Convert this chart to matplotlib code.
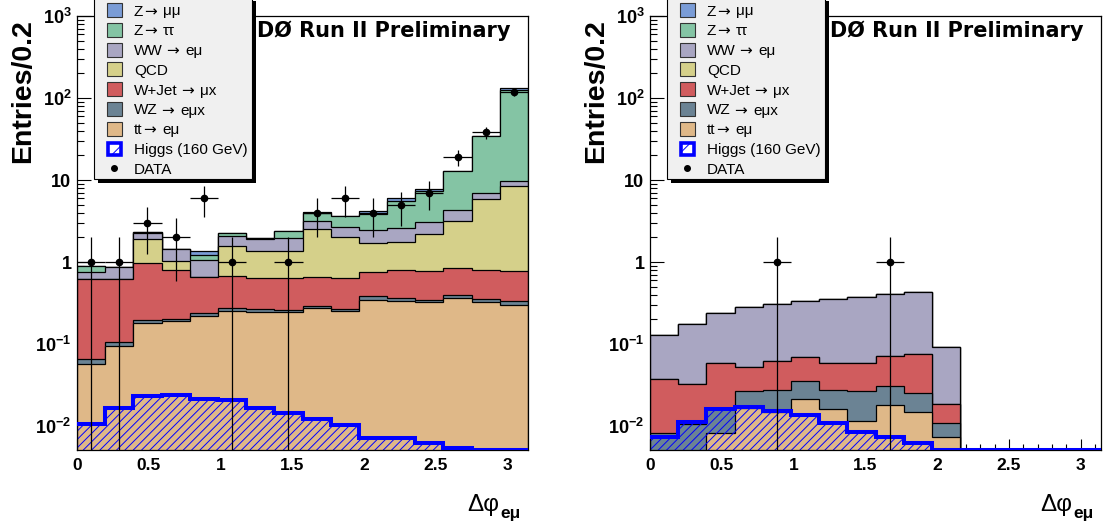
import numpy as np
import matplotlib
matplotlib.use('Agg')
import matplotlib.pyplot as plt
from matplotlib.patches import Rectangle
from matplotlib.ticker import FixedLocator, LogLocator, MultipleLocator, FuncFormatter, NullFormatter

plt.rcParams['font.family'] = ['Liberation Sans', 'DejaVu Sans']
plt.rcParams['mathtext.fontset'] = 'custom'
plt.rcParams['mathtext.rm'] = 'Liberation Sans'
plt.rcParams['mathtext.bf'] = 'Liberation Sans:bold'
plt.rcParams['mathtext.it'] = 'Liberation Sans:italic'
plt.rcParams['hatch.linewidth'] = 0.7

W, H, DPI = 1107, 529, 100

# ---------------- data ----------------
n_bins = 16
edges = np.linspace(0, np.pi, n_bins + 1)

ARROW = "\u2192"
labels = ["Z" + ARROW + " \u03bc\u03bc", "Z" + ARROW + " \u03c4\u03c4", "WW " + ARROW + " e\u03bc", "QCD",
          "W+Jet " + ARROW + " \u03bcx", "WZ " + ARROW + " e\u03bcx", "tt" + ARROW + " e\u03bc",
          "Higgs (160 GeV)", "DATA"]
# stack order bottom -> top: tt, WZ, W+Jet, QCD, WW, Ztautau, Zmumu
colors = ['#dfb888', '#6b8394', '#d05c5e', '#d5d08a', '#a9a6c2', '#84c4a4', '#7a9cd6']
legend_colors = ['#7a9cd6', '#84c4a4', '#a9a6c2', '#d5d08a', '#d05c5e', '#6b8394', '#dfb888']

# left panel
L_tt   = [0.0565, 0.0946, 0.182, 0.189, 0.220, 0.255, 0.248, 0.244, 0.272, 0.250, 0.349, 0.337, 0.323, 0.364, 0.325, 0.303]
L_wz   = [0.0085, 0.0104, 0.014, 0.011, 0.021, 0.022, 0.021, 0.016, 0.018, 0.017, 0.033, 0.032, 0.021, 0.032, 0.031, 0.036]
L_wj   = [0.550, 0.515, 0.776, 0.600, 0.421, 0.398, 0.375, 0.373, 0.372, 0.377, 0.367, 0.441, 0.426, 0.456, 0.436, 0.438]
L_qcd  = [0.0, 0.0, 0.938, 0.230, 0.0, 0.905, 0.716, 0.727, 1.868, 1.396, 0.941, 0.960, 1.410, 2.308, 5.078, 7.723]
L_ww   = [0.135, 0.257, 0.330, 0.400, 0.398, 0.510, 0.530, 0.620, 0.660, 0.630, 0.770, 0.810, 0.920, 1.090, 1.130, 1.360]
L_ztt  = [0.150, 0.0, 0.100, 0.0, 0.160, 0.150, 0.090, 0.410, 0.750, 0.940, 1.420, 3.010, 4.200, 8.650, 27.40, 115.1]
L_zmm  = [0.0, 0.0, 0.0, 0.0, 0.140, 0.0, 0.0, 0.0, 0.100, 0.0, 0.270, 0.390, 0.530, 0.0, 0.0, 8.60]
L_higgs = [0.0105, 0.0164, 0.0232, 0.0239, 0.0212, 0.0207, 0.0167, 0.0143, 0.0121, 0.0103, 0.0072, 0.0071, 0.00615, 0.00534, 0.00514, 0.00514]
L_data = [1, 1, 3, 2, 6, 1, 0, 1, 4, 6, 4, 5, 7, 19, 38, 118]

# right panel
R_tt   = [0.0, 0.0, 0.0083, 0.0165, 0.0150, 0.0212, 0.0160, 0.0116, 0.0180, 0.0149, 0.0074, 0, 0, 0, 0, 0]
R_wz   = [0.0083, 0.0105, 0.0082, 0.0102, 0.0125, 0.0145, 0.0115, 0.0151, 0.0128, 0.0101, 0.0036, 0, 0, 0, 0, 0]
R_wj   = [0.0288, 0.0220, 0.0416, 0.0262, 0.0351, 0.0343, 0.0306, 0.0314, 0.0406, 0.0505, 0.0074, 0, 0, 0, 0, 0]
R_qcd  = [0.0] * 16
R_ww   = [0.0920, 0.1425, 0.1790, 0.2320, 0.2450, 0.2670, 0.2990, 0.3200, 0.3320, 0.3600, 0.0743, 0, 0, 0, 0, 0]
R_ztt  = [0.0] * 16
R_zmm  = [0.0] * 16
R_higgs = [0.0073, 0.0111, 0.0161, 0.0169, 0.0154, 0.0136, 0.0108, 0.0084, 0.0073, 0.0062, 0.00514, 0.00514, 0.00514, 0.00514, 0.00514, 0.00514]
R_data = [0, 0, 0, 0, 1, 0, 0, 0, 1, 0, 0, 0, 0, 0, 0, 0]

YMIN, YMAX = 0.0051, 1000.0
FLOOR = 1e-4

# ---------------- helpers ----------------
def fx(x):
    return x / W

def fy(y):
    return 1.0 - y / H

fig = plt.figure(figsize=(W / DPI, H / DPI), dpi=DPI)
renderer = fig.canvas.get_renderer()

AX_W = 451
AX_TOP, AX_BOT = 16, 450
ax_lefts = [77, 650]


def ylab(v, pos):
    e = int(round(np.log10(v)))
    if e == 0:
        return '1'
    if e == 1:
        return '10'
    return r'$\mathbf{10^{%d}}$' % e


def xlab(v, pos):
    return '%g' % v


def seg_text(x, y, text, size):
    """Draw text left-aligned at pixel x, centred at pixel y; arrows in DejaVu Sans."""
    parts = []
    buf = ''
    for ch in text:
        if ch == ARROW:
            if buf:
                parts.append((buf, None))
            parts.append((ch, 'DejaVu Sans'))
            buf = ''
        else:
            buf += ch
    if buf:
        parts.append((buf, None))
    cur = x
    for s, fam in parts:
        kw = {} if fam is None else {'family': fam}
        t = fig.text(fx(cur), fy(y), s.strip(), fontsize=size, ha='left',
                     va='center_baseline', zorder=8, **kw)
        bb = t.get_window_extent(renderer)
        if fam is not None:
            cur = bb.x1 + 6
        elif s.endswith(' '):
            cur = bb.x1 + 4
        else:
            cur = bb.x1 + 1
    return cur


def draw_panel(ax, comps, higgs, data):
    cum = np.cumsum(np.vstack(comps), axis=0)
    for i in range(len(comps) - 1, -1, -1):
        top = np.maximum(cum[i], FLOOR)
        ax.stairs(top, edges, baseline=FLOOR, fill=True, facecolor=colors[i],
                  edgecolor='none', zorder=1)
        ax.stairs(top, edges, baseline=FLOOR, fill=False, edgecolor='black',
                  lw=0.9, zorder=1)
    hv = np.asarray(higgs)
    ax.stairs(hv, edges, baseline=FLOOR, fill=True, facecolor='none',
              edgecolor='blue', hatch='////', lw=0, zorder=2)
    ax.stairs(hv, edges, baseline=None, color='blue', lw=2.9, zorder=3)
    d = np.asarray(data, float)
    centers = 0.5 * (edges[1:] + edges[:-1])
    halfw = 0.5 * (edges[1] - edges[0])
    m = d > 0
    lo = d[m] - np.maximum(d[m] - np.sqrt(d[m]), 1e-4)
    hi = np.sqrt(d[m])
    ax.errorbar(centers[m], d[m], yerr=[lo, hi], xerr=halfw, fmt='o', color='black',
                ms=4.5, lw=0.9, capsize=0, zorder=4)

    ax.set_yscale('log')
    ax.set_ylim(YMIN, YMAX)
    ax.set_xlim(0, np.pi)
    ax.set_axisbelow(True)
    ax.yaxis.set_major_locator(FixedLocator([1e-2, 1e-1, 1, 10, 100, 1000]))
    ax.yaxis.set_major_formatter(FuncFormatter(ylab))
    ax.yaxis.set_minor_locator(LogLocator(base=10, subs=np.arange(2, 10), numticks=30))
    ax.yaxis.set_minor_formatter(NullFormatter())
    ax.xaxis.set_major_locator(MultipleLocator(0.5))
    ax.xaxis.set_minor_locator(MultipleLocator(0.1))
    ax.xaxis.set_major_formatter(FuncFormatter(xlab))
    ax.tick_params(axis='y', which='major', direction='in', length=10, width=0.8,
                   left=True, right=False, labelsize=13, pad=4)
    ax.tick_params(axis='y', which='minor', direction='in', length=5, width=0.8,
                   left=True, right=False)
    ax.tick_params(axis='x', which='major', direction='in', length=8, width=0.8,
                   bottom=True, top=False, labelsize=12.5, pad=6)
    ax.tick_params(axis='x', which='minor', direction='in', length=4, width=0.8,
                   bottom=True, top=False)
    for lbl in ax.get_xticklabels() + ax.get_yticklabels():
        lbl.set_fontweight('bold')
    for s in ax.spines.values():
        s.set_linewidth(0.9)


def draw_legend(x0):
    bx0, bx1 = x0, x0 + 158
    bt, bb = -3, 179
    off = 4
    fig.patches.append(Rectangle((fx(bx0 + off), fy(bb + off)), (bx1 - bx0) / W,
                                 (bb - bt) / H, transform=fig.transFigure,
                                 facecolor='black', edgecolor='none', zorder=5))
    fig.patches.append(Rectangle((fx(bx0), fy(bb)), (bx1 - bx0) / W, (bb - bt) / H,
                                 transform=fig.transFigure, facecolor='#f0f0f0',
                                 edgecolor='black', lw=0.8, zorder=6))
    for k, lab in enumerate(labels):
        yc = 10 + 19.8 * k
        px0, pw, ph = bx0 + 13, 15, 14
        if k < 7:
            fig.patches.append(Rectangle((fx(px0), fy(yc + ph / 2)), pw / W, ph / H,
                                         transform=fig.transFigure,
                                         facecolor=legend_colors[k], edgecolor='#333333',
                                         lw=0.8, zorder=7))
        elif k == 7:
            fig.patches.append(Rectangle((fx(px0 + 1), fy(yc + ph / 2 - 1)), (pw - 2) / W,
                                         (ph - 2) / H, transform=fig.transFigure,
                                         facecolor='white', edgecolor='blue', hatch='//',
                                         lw=2.6, zorder=7))
        else:
            fig.lines.append(plt.Line2D([fx(px0 + pw / 2)], [fy(yc)], marker='o', ms=4,
                                        color='black', transform=fig.transFigure, zorder=7))
        seg_text(bx0 + 40, yc, lab, 11)


panels = [
    ([L_tt, L_wz, L_wj, L_qcd, L_ww, L_ztt, L_zmm], L_higgs, L_data),
    ([R_tt, R_wz, R_wj, R_qcd, R_ww, R_ztt, R_zmm], R_higgs, R_data),
]

for axl, (comps, higgs, data) in zip(ax_lefts, panels):
    ax = fig.add_axes([fx(axl), fy(AX_BOT), AX_W / W, (AX_BOT - AX_TOP) / H])
    draw_panel(ax, comps, higgs, data)
    draw_legend(axl + 16.8)
    fig.text(fx(axl + 179.7), fy(36.7), 'D\u00d8 Run II Preliminary', fontsize=15,
             fontweight='bold', family='DejaVu Sans', ha='left', va='baseline', zorder=8)
    fig.text(fx(axl - 54), fy(91), 'Entries/0.2', rotation=90, fontsize=20.5,
             fontweight='bold', ha='center', va='center')
    t = fig.text(fx(axl + 390.5), fy(511), '\u0394\u03c6', fontsize=17.5, ha='left',
                 va='baseline')
    x1 = t.get_window_extent(renderer).x1
    fig.text(x1 / W + 1.0 / W, fy(518), 'e\u03bc', fontsize=12.5, fontweight='bold',
             ha='left', va='baseline')

fig.savefig('out.png', dpi=DPI, facecolor='white')
